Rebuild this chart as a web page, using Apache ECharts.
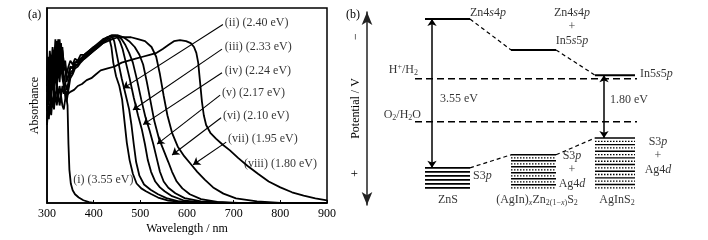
<!DOCTYPE html>
<html>
<head>
<meta charset="utf-8">
<script src="https://cdn.jsdelivr.net/npm/echarts@6/dist/echarts.min.js"></script>
<style>
html, body { margin: 0; padding: 0; background: #fff; }
#chart { width: 708px; height: 240px; }
</style>
</head>
<body>
<div id="chart"></div>
<script>
// (a) absorbance spectra, [wavelength nm, normalised absorbance]
const curveI = [[300,.42],[303,.5],[306,.46],[309,.55],[312,.49],[315,.58],[318,.52],[321,.62],[324,.54],[327,.6],[330,.55],[333,.6],[336,.56],[339,.58],[342,.57],[344,.5],[346,.3],[348,.17],[351,.1],[355,.065],[360,.045],[368,.028],[378,.014],[390,.004],[400,0],[900,0]];
const curveII = [[300,.68],[302,.75],[304,.69],[306,.78],[309,.7],[312,.8],[315,.72],[318,.84],[320,.74],[322,.83],[325,.75],[327,.84],[330,.74],[333,.8],[336,.7],[339,.73],[342,.66],[346,.7],[350,.73],[355,.71],[360,.74],[366,.73],[372,.76],[380,.76],[390,.78],[400,.8],[410,.81],[420,.83],[428,.85],[434,.84],[438,.8],[442,.72],[448,.65],[455,.6],[461,.53],[466,.42],[471,.31],[477,.22],[484,.15],[492,.1],[502,.075],[512,.06],[523,.046],[538,.028],[560,.012],[600,.003],[650,0],[900,0]];
const curveIII = [[300,.6],[302,.67],[304,.62],[306,.7],[309,.63],[312,.72],[315,.66],[318,.77],[321,.69],[324,.8],[327,.7],[330,.82],[333,.72],[336,.68],[339,.7],[342,.62],[346,.66],[350,.7],[355,.69],[360,.72],[366,.72],[372,.74],[380,.75],[390,.77],[400,.79],[410,.81],[420,.83],[430,.85],[438,.86],[444,.83],[448,.78],[453,.72],[460,.64],[468,.56],[476,.48],[481,.4],[486,.3],[491,.21],[498,.14],[508,.095],[522,.068],[538,.045],[556,.025],[580,.01],[620,.003],[660,0],[900,0]];
const curveIV = [[300,.5],[302,.58],[304,.54],[306,.62],[309,.56],[312,.66],[315,.6],[318,.7],[321,.63],[324,.73],[327,.66],[330,.76],[333,.68],[336,.62],[339,.58],[342,.55],[346,.6],[350,.67],[355,.68],[360,.71],[366,.71],[372,.73],[380,.75],[390,.77],[400,.79],[410,.81],[420,.83],[430,.85],[440,.86],[448,.86],[456,.83],[462,.79],[469,.72],[477,.64],[486,.54],[495,.45],[503,.38],[510,.3],[516,.22],[523,.16],[532,.11],[542,.08],[552,.06],[568,.035],[592,.014],[630,.003],[670,0],[900,0]];
const curveV = [[300,.63],[302,.7],[304,.65],[306,.74],[309,.67],[312,.76],[315,.7],[318,.8],[321,.72],[324,.84],[327,.75],[330,.8],[333,.78],[336,.72],[339,.7],[342,.63],[346,.65],[350,.69],[355,.7],[360,.72],[366,.73],[372,.74],[380,.76],[390,.78],[400,.8],[410,.82],[420,.84],[430,.85],[440,.86],[450,.86],[460,.84],[468,.81],[476,.77],[484,.72],[493,.63],[502,.53],[511,.44],[520,.37],[528,.3],[535,.23],[542,.16],[550,.11],[560,.078],[575,.05],[595,.025],[630,.008],[690,0],[900,0]];
const curveVI = [[300,.47],[302,.55],[304,.5],[306,.6],[309,.53],[312,.63],[315,.57],[318,.67],[321,.6],[324,.7],[327,.62],[330,.72],[333,.64],[336,.6],[339,.55],[342,.52],[346,.58],[350,.64],[355,.66],[360,.69],[366,.7],[372,.72],[380,.74],[390,.76],[400,.78],[410,.8],[420,.82],[430,.84],[440,.85],[452,.86],[464,.85],[476,.83],[488,.8],[498,.76],[506,.71],[514,.62],[522,.52],[530,.42],[540,.33],[550,.27],[560,.21],[568,.16],[578,.11],[590,.075],[606,.045],[630,.02],[665,.006],[710,0],[900,0]];
const curveVII = [[300,.57],[302,.63],[304,.58],[306,.67],[309,.61],[312,.7],[315,.64],[318,.74],[321,.67],[324,.78],[327,.69],[330,.77],[333,.7],[336,.66],[339,.62],[342,.58],[346,.62],[350,.66],[355,.67],[360,.7],[366,.71],[372,.73],[380,.74],[390,.76],[400,.78],[410,.8],[420,.82],[430,.83],[440,.84],[452,.85],[465,.85],[480,.85],[495,.84],[510,.83],[524,.8],[534,.75],[542,.66],[550,.55],[558,.45],[568,.36],[580,.29],[594,.24],[608,.2],[622,.16],[638,.12],[656,.08],[678,.048],[705,.024],[750,.008],[800,0],[900,0]];
const curveVIII = [[300,.4],[302,.47],[304,.43],[306,.51],[309,.45],[312,.54],[315,.48],[318,.57],[321,.5],[324,.56],[327,.5],[330,.55],[333,.5],[336,.48],[340,.55],[345,.56],[350,.57],[358,.58],[366,.6],[375,.61],[385,.63],[395,.64],[405,.66],[415,.68],[430,.69],[445,.7],[460,.72],[475,.73],[490,.74],[505,.75],[520,.76],[535,.77],[548,.79],[560,.81],[572,.83],[585,.835],[598,.83],[608,.82],[615,.8],[620,.77],[624,.72],[628,.62],[632,.52],[636,.45],[641,.4],[650,.36],[662,.33],[676,.3],[692,.27],[710,.23],[730,.19],[752,.15],[775,.11],[800,.08],[825,.055],[850,.038],[875,.024],[900,.014]];
const curveNames = ['(i)', '(ii)', '(iii)', '(iv)', '(v)', '(vi)', '(vii)', '(viii)'];
const bandGaps = [3.55, 2.40, 2.33, 2.24, 2.17, 2.10, 1.95, 1.80];
const xTicks = [300, 400, 500, 600, 700, 800, 900];

// (b) band positions, V
const materials = ['ZnS', '(AgIn)xZn2(1-x)S2', 'AgInS2'];
const cbLevel = [-1.70, -0.82, -0.10];
const vbTop = [2.54, 2.17, 1.69];
const vbBottom = [3.11, 3.11, 3.11];
const cbOrbital = ['Zn4s4p', 'Zn4s4p + In5s5p', 'In5s5p'];
const vbOrbital = ['S3p', 'S3p + Ag4d', 'S3p + Ag4d'];
const gapText = ['3.55 eV', '', '1.80 eV'];
const redoxNames = ['H+/H2', 'O2/H2O'];
const redoxPotential = [0, 1.23];

const FONT = '"Liberation Serif", "Times New Roman", serif';
const chart = echarts.init(document.getElementById('chart'));

// layout of the text / arrows (a)
const tagPos = [[356, .121], [681, .925], [681, .799], [681, .678], [675, .563], [677, .447], [688, .327], [722, .201]];
const arrowFrom = [null, [677, .915], [675, .789], [675, .668], [671, .553], [673, .437], [684, .312], null];
const arrowTo = [null, [463, .588], [484, .477], [506, .402], [536, .302], [568, .246], [613, .196], null];
// layout of (b): x units of panel
const colSpan = [[58, 103], [144, 189], [228, 268]];
const bandLines = [6, 12, 16];
const gapX = [65, null, 237];

const rich = {
  i: { fontStyle: 'italic', fontFamily: FONT, fontSize: 12, color: '#000' },
  sub: { fontFamily: FONT, fontSize: 8, color: '#000', padding: [6, 0, 0, 0] },
  subi: { fontFamily: FONT, fontSize: 8, fontStyle: 'italic', color: '#000', padding: [6, 0, 0, 0] },
  sup: { fontFamily: FONT, fontSize: 8, color: '#000', padding: [0, 0, 5, 0] }
};
// orbital names -> rich text with italic s/p/d
const orb = s => s.replace(/(\d)([spd])/g, '$1{i|$2}').replace(/ \+ /g, '\n+\n');
const richName = {
  'H+/H2': 'H{sup|+}/H{sub|2}',
  'O2/H2O': 'O{sub|2}/H{sub|2}O',
  'ZnS': 'ZnS',
  '(AgIn)xZn2(1-x)S2': '(AgIn){subi|x}Zn{sub|2(1−}{subi|x}{sub|)}S{sub|2}',
  'AgInS2': 'AgInS{sub|2}'
};

const series = [];
const seg = (pts, width, type, grid) => series.push({
  type: 'line', xAxisIndex: grid, yAxisIndex: grid, data: pts, symbol: 'none', silent: true,
  lineStyle: { color: '#000', width: width, type: type }
});

[curveI, curveII, curveIII, curveIV, curveV, curveVI, curveVII, curveVIII].forEach(d => {
  series.push({
    type: 'line', xAxisIndex: 0, yAxisIndex: 0, data: d, symbol: 'none', silent: true,
    lineStyle: { color: '#000', width: 1.8 }
  });
});

// curve tags + arrows
series.push({
  type: 'scatter', xAxisIndex: 0, yAxisIndex: 0, symbolSize: 0, clip: false, silent: true,
  data: curveNames.map((n, i) => ({
    value: tagPos[i],
    label: { show: true, position: 'right', distance: 0, formatter: n + ' (' + bandGaps[i].toFixed(2) + ' eV)' }
  })),
  label: { fontFamily: FONT, fontSize: 12, color: '#000' },
  markLine: {
    silent: true, symbol: ['none', 'arrow'], symbolSize: 7,
    lineStyle: { color: '#000', width: 1.1, type: 'solid' }, label: { show: false },
    data: arrowFrom.map((p, i) => p ? [{ coord: p }, { coord: arrowTo[i] }] : null).filter(Boolean)
  }
});

// (b) conduction band levels
materials.forEach((m, i) => {
  seg([[colSpan[i][0], cbLevel[i]], [colSpan[i][1], cbLevel[i]]], 2, 'solid', 1);
  // valence band stack
  const n = bandLines[i];
  for (let k = 0; k < n; k++) {
    const e = vbTop[i] + (vbBottom[i] - vbTop[i]) * k / (n - 1);
    const dotted = i > 0 && k % 2 === 1;
    seg([[colSpan[i][0], e], [colSpan[i][1], e]], dotted ? 1.3 : (i === 0 ? 1.8 : 1.4), dotted ? [1.5, 1.5] : 'solid', 1);
  }
  if (i < materials.length - 1) {
    seg([[colSpan[i][1], cbLevel[i]], [colSpan[i + 1][0], cbLevel[i + 1]]], 1.2, [4, 3], 1);
    seg([[colSpan[i][1], vbTop[i]], [colSpan[i + 1][0], vbTop[i + 1]]], 1.2, [4, 3], 1);
  }
});
redoxPotential.forEach(p => seg([[48, p], [270, p]], 1.5, [7, 4], 1));

// gap arrows
series.push({
  type: 'line', xAxisIndex: 1, yAxisIndex: 1, data: [], silent: true,
  markLine: {
    silent: true, symbol: ['arrow', 'arrow'], symbolSize: 7,
    lineStyle: { color: '#000', width: 1.5, type: 'solid' }, label: { show: false },
    data: gapX.map((x, i) => x === null ? null : [{ coord: [x, cbLevel[i]] }, { coord: [x, vbTop[i]] }]).filter(Boolean)
  }
});

// text of (b)
const bText = [];
const addText = (x, y, text, pos) => bText.push({
  value: [x, y],
  label: { show: true, position: pos, distance: 0, formatter: text, rich: rich, align: pos === 'right' ? 'left' : (pos === 'left' ? 'right' : 'center') }
});
addText(103, -1.887, orb(cbOrbital[0]), 'right');
addText(205, -1.47, orb(cbOrbital[1]), 'inside');
addText(273, -0.134, orb(cbOrbital[2]), 'right');
addText(51, -0.25, richName[redoxNames[0]], 'left');
addText(54, 1.03, richName[redoxNames[1]], 'left');
addText(73, 0.58, gapText[0], 'right');
addText(243, 0.61, gapText[2], 'right');
addText(106, 2.77, orb(vbOrbital[0]), 'right');
addText(205, 2.60, orb(vbOrbital[1]), 'inside');
addText(291, 2.20, orb(vbOrbital[2]), 'inside');
[81, 170, 250].forEach((x, i) => addText(x, 3.46, richName[materials[i]], 'inside'));
series.push({
  type: 'scatter', xAxisIndex: 1, yAxisIndex: 1, symbolSize: 0, clip: false, silent: true,
  data: bText,
  label: { fontFamily: FONT, fontSize: 12, color: '#000', lineHeight: 14 }
});

const option = {
  animation: false,
  backgroundColor: '#fff',
  textStyle: { fontFamily: FONT, color: '#000' },
  graphic: [
    { type: 'text', left: 28, top: 9, style: { text: '(a)', font: '12px ' + FONT, fill: '#000' } },
    { type: 'text', left: 346, top: 9, style: { text: '(b)', font: '12px ' + FONT, fill: '#000' } }
  ],
  grid: [
    { left: 47, top: 8, width: 280, height: 199, show: true, borderColor: '#000', borderWidth: 1.5, backgroundColor: 'transparent' },
    { left: 367, top: 12, width: 333, height: 193, show: false }
  ],
  xAxis: [
    {
      gridIndex: 0, type: 'value', min: xTicks[0], max: xTicks[xTicks.length - 1], interval: 100,
      name: 'Wavelength / nm', nameLocation: 'middle', nameGap: 20, nameMoveOverlap: false,
      nameTextStyle: { fontFamily: FONT, fontSize: 12, color: '#000' },
      axisLine: { lineStyle: { color: '#000', width: 1.5 } },
      axisTick: { inside: true, length: 3, lineStyle: { color: '#000' } },
      axisLabel: { fontFamily: FONT, fontSize: 12, color: '#000', margin: 5 },
      splitLine: { show: false }
    },
    { gridIndex: 1, type: 'value', min: 0, max: 333, show: false }
  ],
  yAxis: [
    {
      gridIndex: 0, type: 'value', min: 0, max: 1,
      name: 'Absorbance', nameLocation: 'middle', nameGap: 6, nameRotate: 90, nameMoveOverlap: false,
      nameTextStyle: { fontFamily: FONT, fontSize: 12, color: '#000' },
      axisLine: { show: true, lineStyle: { color: '#000', width: 1.5 } },
      axisTick: { show: false }, axisLabel: { show: false }, splitLine: { show: false }
    },
    {
      gridIndex: 1, type: 'value', inverse: true, min: -1.9, max: 3.6, interval: 0.1,
      name: 'Potential / V', nameLocation: 'middle', nameGap: 5, nameRotate: 90, nameMoveOverlap: false,
      nameTextStyle: { fontFamily: FONT, fontSize: 12, color: '#000' },
      axisLine: { show: true, onZero: false, symbol: ['arrow', 'arrow'], symbolSize: [8, 13], lineStyle: { color: '#222', width: 1.5 } },
      axisTick: { show: false }, splitLine: { show: false },
      axisLabel: {
        interval: 0, rotate: 90, margin: 5, fontFamily: FONT, fontSize: 12, color: '#000',
        formatter: v => Math.abs(v + 1.2) < 0.01 ? '−' : (Math.abs(v - 2.7) < 0.01 ? '+' : '')
      }
    }
  ],
  series: series
};
chart.setOption(option);
window.addEventListener('resize', () => chart.resize());
</script>
</body>
</html>
